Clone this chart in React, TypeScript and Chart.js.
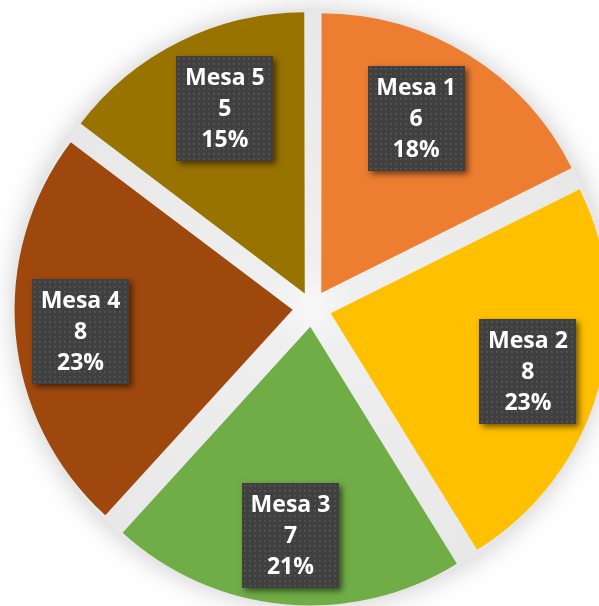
import React, { useEffect, useRef } from "react";
import { Chart, registerables } from "chart.js";

Chart.register(...registerables);

const categories = ["Mesa 1", "Mesa 2", "Mesa 3", "Mesa 4", "Mesa 5"];
const values = [6, 8, 7, 8, 5];
const percentLabels = ["18%", "23%", "21%", "23%", "15%"];
const colors = ["#ED7D31", "#FFC000", "#70AD47", "#9E480E", "#997300"];

// style constants
const EXPLODE = 19.5; // px translation of each slice
const RADIUS = 278;
const LABEL_FRACTION = 0.73;
const LABEL_NUDGE_X = [-13, 2, -1, -10, 12];
const LABEL_NUDGE_Y = [0, 3, 6, 3, 0];
const BOX_W = 97;
const BOX_H = 105;
const LINE_H = 31;

function makePattern(ctx: CanvasRenderingContext2D) {
  const c = document.createElement("canvas");
  c.width = 5;
  c.height = 5;
  const p = c.getContext("2d")!;
  p.fillStyle = "#404040";
  p.fillRect(0, 0, 5, 5);
  p.fillStyle = "#4e4e4e";
  p.fillRect(2, 2, 2, 2);
  p.fillStyle = "#575757";
  p.fillRect(2, 2, 1, 1);
  return ctx.createPattern(c, "repeat");
}

const glowPlugin = {
  id: "glow",
  beforeDatasetsDraw(chart: any) {
    const meta = chart.getDatasetMeta(0);
    const arc = meta.data[0];
    if (!arc) return;
    const { x, y, outerRadius } = arc;
    const ctx = chart.ctx as CanvasRenderingContext2D;
    const r = outerRadius + EXPLODE * 0.95;
    ctx.save();
    ctx.shadowColor = "rgba(0,0,0,0.22)";
    ctx.shadowBlur = 28;
    const g = ctx.createRadialGradient(x, y, 0, x, y, r);
    g.addColorStop(0, "#f8f8f8");
    g.addColorStop(0.15, "#efefef");
    g.addColorStop(1, "#e8e8e8");
    ctx.fillStyle = g;
    ctx.beginPath();
    ctx.arc(x, y, r, 0, Math.PI * 2);
    ctx.fill();
    ctx.restore();
  },
};

const labelPlugin = {
  id: "boxLabels",
  afterDatasetsDraw(chart: any) {
    const meta = chart.getDatasetMeta(0);
    const ctx = chart.ctx as CanvasRenderingContext2D;
    const pattern = makePattern(ctx);
    meta.data.forEach((arc: any, i: number) => {
      const { x, y, startAngle, endAngle, outerRadius } = arc;
      const mid = (startAngle + endAngle) / 2;
      const dist = EXPLODE + outerRadius * LABEL_FRACTION;
      const cx = x + Math.cos(mid) * dist + LABEL_NUDGE_X[i];
      const cy = y + Math.sin(mid) * dist + LABEL_NUDGE_Y[i];
      const bx = Math.round(cx - BOX_W / 2);
      const by = Math.round(cy - BOX_H / 2);
      ctx.save();
      ctx.shadowColor = "rgba(0,0,0,0.55)";
      ctx.shadowBlur = 6;
      ctx.shadowOffsetX = 3;
      ctx.shadowOffsetY = 3;
      ctx.fillStyle = "#404040";
      ctx.fillRect(bx, by, BOX_W, BOX_H);
      ctx.restore();
      ctx.save();
      ctx.fillStyle = pattern || "#404040";
      ctx.translate(bx, by);
      ctx.fillRect(0, 0, BOX_W, BOX_H);
      ctx.restore();
      ctx.save();
      ctx.fillStyle = "#ffffff";
      ctx.font = "bold 23px 'Open Sans'";
      ctx.textAlign = "center";
      ctx.textBaseline = "middle";
      const lines = [categories[i], String(values[i]), percentLabels[i]];
      lines.forEach((t, k) => {
        ctx.fillText(t, cx, cy + 1 + (k - 1) * LINE_H);
      });
      ctx.restore();
    });
  },
};

export default function App() {
  const ref = useRef<HTMLCanvasElement>(null);
  useEffect(() => {
    if (!ref.current) return;
    const total = values.reduce((a, b) => a + b, 0);
    const chart = new Chart(ref.current, {
      type: "pie",
      data: {
        labels: categories,
        datasets: [
          {
            data: values,
            backgroundColor: colors,
            borderWidth: 0,
            offset: (c: any) => {
              const v = c.dataset.data[c.dataIndex] as number;
              const circ = (v / total) * Math.PI * 2;
              const fix = 1 - Math.sin(Math.min(Math.PI, circ));
              return (4 * EXPLODE) / (1 + fix);
            },
          } as any,
        ],
      },
      options: {
        animation: false,
        responsive: false,
        radius: RADIUS,
        layout: { padding: { left: 25, top: 10, right: 0, bottom: 0 } },
        plugins: {
          legend: { display: false },
          tooltip: { enabled: false },
        },
      } as any,
      plugins: [glowPlugin, labelPlugin],
    });
    return () => chart.destroy();
  }, []);
  return (
    <div
      style={{
        position: "fixed",
        left: 0,
        top: 0,
        width: 599,
        height: 606,
        background: "#ffffff",
        overflow: "hidden",
      }}
    >
      <canvas ref={ref} width={599} height={606} />
    </div>
  );
}
